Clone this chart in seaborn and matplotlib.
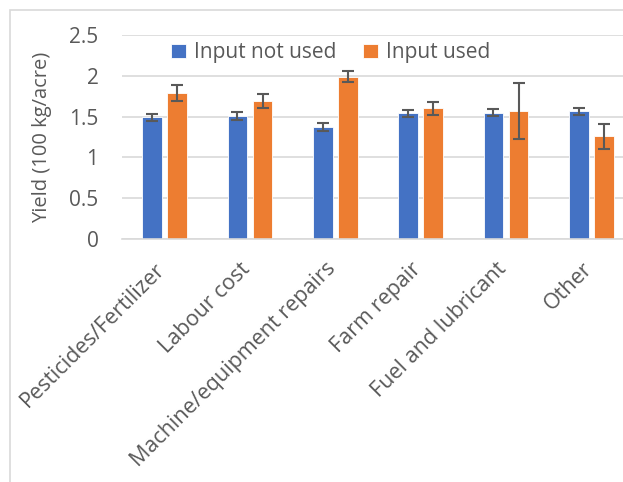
import numpy as np
import pandas as pd
import matplotlib
matplotlib.use("Agg")
import matplotlib.pyplot as plt
import matplotlib.transforms as mtransforms
import seaborn as sns

categories = ["Pesticides/Fertilizer", "Labour cost", "Machine/equipment repairs",
              "Farm repair", "Fuel and lubricant", "Other"]
not_used = [1.49, 1.51, 1.37, 1.54, 1.55, 1.565]
not_used_err = [0.04, 0.05, 0.05, 0.045, 0.04, 0.045]
used = [1.79, 1.69, 1.99, 1.60, 1.57, 1.26]
used_err = [0.10, 0.085, 0.07, 0.085, 0.345, 0.155]
groups = ["Input not used", "Input used"]

rows = []
for i, c in enumerate(categories):
    rows.append({"Category": c, "Group": groups[0], "Yield": not_used[i], "err": not_used_err[i]})
    rows.append({"Category": c, "Group": groups[1], "Yield": used[i], "err": used_err[i]})
df = pd.DataFrame(rows)

sns.set_theme(style="white")
plt.rcParams["font.family"] = ["Open Sans", "DejaVu Sans"]
text_col = "#595959"

fig = plt.figure(figsize=(6.23, 4.82), dpi=100)
# chart area border (cropped at right and bottom)
fig.patches.append(plt.Rectangle((10 / 623, -0.1), 1.2, (482 - 10) / 482 + 0.1,
                                 transform=fig.transFigure, fill=False,
                                 edgecolor="#d9d9d9", linewidth=1.2))
ax = fig.add_axes([122 / 623, (482 - 239) / 482, 512 / 623, 204 / 482])

sns.barplot(data=df, x="Category", y="Yield", hue="Group", order=categories,
            hue_order=groups, palette=["#4472C4", "#ED7D31"], saturation=1,
            width=0.586, gap=0.22, errorbar=None, edgecolor="white", linewidth=0.6,
            ax=ax)

# error bars at bar centres
bars = sorted([p for p in ax.patches if p.get_height() > 0], key=lambda p: p.get_x())
xs = [p.get_x() + p.get_width() / 2 for p in bars]
ax.errorbar(xs, df["Yield"], yerr=df["err"], fmt="none", ecolor="#595959",
            elinewidth=1.5, capsize=4.5, capthick=1.5, zorder=5)

ax.set_ylim(0, 2.5)
ax.set_xlim(-0.5, 5.5)
ax.set_yticks([0, 0.5, 1, 1.5, 2, 2.5])
ax.set_yticklabels(["0", "0.5", "1", "1.5", "2", "2.5"])
ax.yaxis.grid(True, color="#d9d9d9", linewidth=1.2)
ax.set_axisbelow(True)
for s in ["top", "right", "left"]:
    ax.spines[s].set_visible(False)
ax.spines["bottom"].set_color("#d9d9d9")
ax.spines["bottom"].set_linewidth(1.2)
ax.tick_params(axis="y", length=0, pad=17, labelsize=15, labelcolor=text_col)
ax.tick_params(axis="x", length=0, pad=14, labelsize=15.5, labelcolor=text_col)
shift = mtransforms.ScaledTranslation(-10 / 100, 0, fig.dpi_scale_trans)
for lbl in ax.get_xticklabels():
    lbl.set_rotation(45)
    lbl.set_ha("right")
    lbl.set_rotation_mode("anchor")
    lbl.set_transform(lbl.get_transform() + shift)
ax.set_xlabel("")
ax.set_ylabel("Yield (100 kg/acre)", fontsize=14.5, color=text_col, labelpad=12)

ax.legend(loc="center left", bbox_to_anchor=(0.06, 0.912), ncol=2, frameon=False,
          fontsize=15, handlelength=0.7, handleheight=0.7, handletextpad=0.4,
          columnspacing=1.28, labelcolor=text_col)

fig.savefig("out.png", dpi=100)
